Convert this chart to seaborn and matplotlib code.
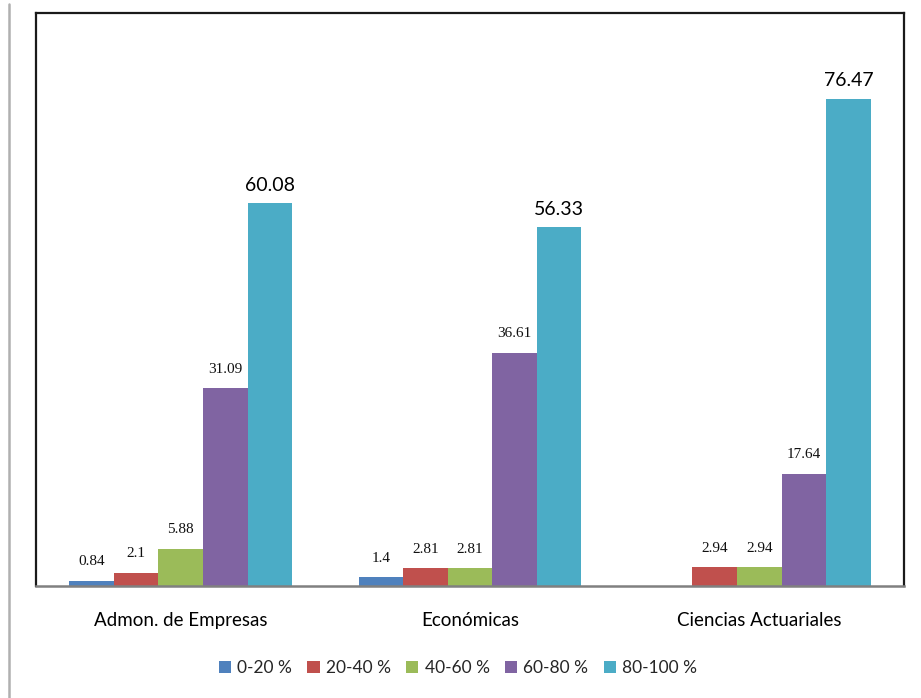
import matplotlib
matplotlib.use("Agg")
import matplotlib.pyplot as plt
from matplotlib.lines import Line2D
from matplotlib.patches import Patch
import seaborn as sns
import pandas as pd
import numpy as np

categories = ["Admon. de Empresas", "Económicas", "Ciencias Actuariales"]
ranges = ["0-20 %", "20-40 %", "40-60 %", "60-80 %", "80-100 %"]
v_0_20 = [0.84, 1.4, 0.0]
v_20_40 = [2.1, 2.81, 2.94]
v_40_60 = [5.88, 2.81, 2.94]
v_60_80 = [31.09, 36.61, 17.64]
v_80_100 = [60.08, 56.33, 76.47]
labels_0_20 = ["0.84", "1.4", ""]
labels_20_40 = ["2.1", "2.81", "2.94"]
labels_40_60 = ["5.88", "2.81", "2.94"]
labels_60_80 = ["31.09", "36.61", "17.64"]
labels_80_100 = ["60.08", "56.33", "76.47"]
colors = ["#4F81BD", "#C0504D", "#9BBB59", "#8064A2", "#4BACC6"]

series = [v_0_20, v_20_40, v_40_60, v_60_80, v_80_100]
label_sets = [labels_0_20, labels_20_40, labels_40_60, labels_60_80, labels_80_100]

rows = []
for r, vals in zip(ranges, series):
    for c, v in zip(categories, vals):
        rows.append({"cat": c, "rng": r, "val": v})
df = pd.DataFrame(rows)

sns.set_theme(style="white")
plt.rcParams["font.family"] = ["Lato", "DejaVu Sans"]

fig = plt.figure(figsize=(9.21, 6.98), dpi=100)
ax = fig.add_axes([36 / 921, 112 / 698, 868 / 921, 573 / 698])

sns.barplot(data=df, x="cat", y="val", hue="rng", order=categories,
            hue_order=ranges, palette=colors, width=0.77, saturation=1,
            edgecolor="none", linewidth=0, ax=ax, legend=False)

ax.set_xlim(-0.5, 2.5)
ax.set_ylim(0, 90)
ax.set_xlabel("")
ax.set_ylabel("")
ax.set_yticks([])
ax.tick_params(axis="x", length=0, pad=19, labelsize=13.5, colors="#000000")

for i, cont in enumerate(ax.containers):
    labs = label_sets[i]
    if i == 4:
        ax.bar_label(cont, labels=labs, padding=7, fontsize=14,
                     family=["Lato", "DejaVu Sans"], color="#000000")
    else:
        ax.bar_label(cont, labels=labs, padding=9, fontsize=11,
                     family=["Liberation Serif", "DejaVu Serif"], color="#111111")

for s in ["left", "top", "right"]:
    ax.spines[s].set_color("#1a1a1a")
    ax.spines[s].set_linewidth(1.6)
ax.spines["bottom"].set_color("#808080")
ax.spines["bottom"].set_linewidth(1.8)

handles = [Patch(facecolor=c, edgecolor="none") for c in colors]
fig.legend(handles, ranges, loc="center", bbox_to_anchor=(458 / 921, 1 - 668 / 698),
           ncol=5, frameon=False, fontsize=12.5, handlelength=0.7, handleheight=0.7,
           handletextpad=0.35, columnspacing=0.9)

fig.add_artist(Line2D([9 / 921, 9 / 921], [0, 1 - 4 / 698], color="#b0b0b0",
                      linewidth=1.8, transform=fig.transFigure))

fig.savefig("out.png", dpi=100)
